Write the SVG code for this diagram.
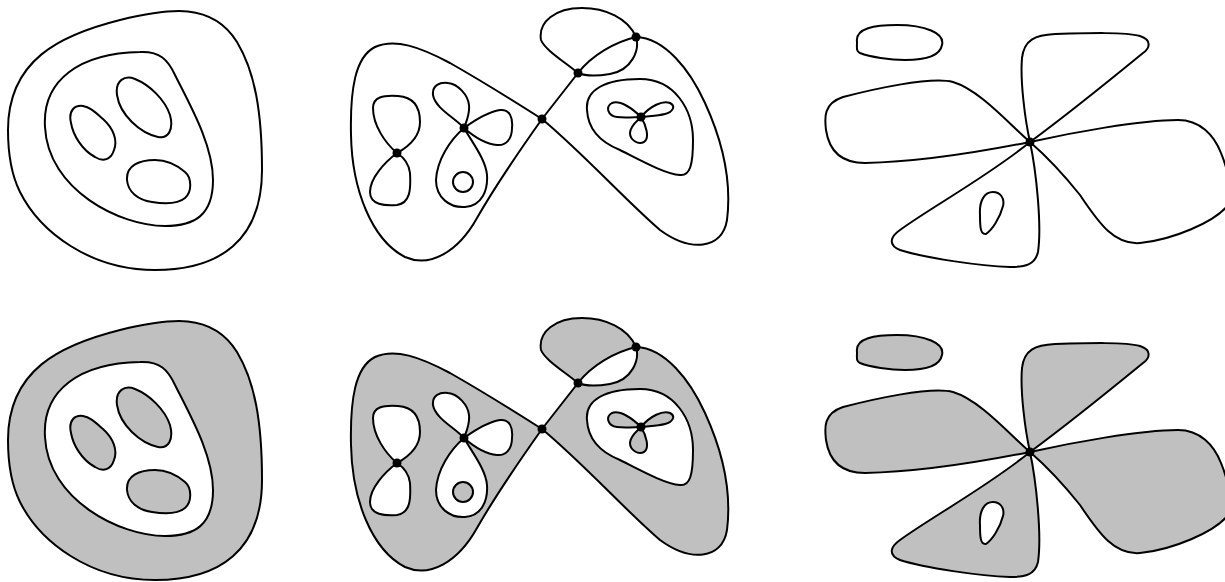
<svg xmlns="http://www.w3.org/2000/svg" xmlns:xlink="http://www.w3.org/1999/xlink" width="1225" height="582" viewBox="0 0 1225 582">
<style>
.ln{stroke:#000;stroke-width:2;stroke-linejoin:round;fill-rule:evenodd}
.top{fill:none}
.bot{fill:#c0c0c0}
.dot{fill:#000}
</style>
<defs>
<path id="p1" d="M 8,130 C 8,60 60,35 120,20 C 170,8 212,2 237,42 C 255,72 262,112 262,170 C 262,240 220,270 155,270 C 90,270 40,232 20,192 C 10,172 8,150 8,130 Z
M 45,127 C 42,80 80,53 140,52 C 160,51 168,60 175,75 C 190,105 213,145 213,180 C 213,215 195,226 165,226 C 120,226 48,190 45,127 Z
M 71,123 C 68,110 75,105 83,106 C 90,107 95,112 103,119 C 113,128 118,140 114,150 C 111,160 103,162 95,157 C 82,150 73,135 71,123 Z
M 117,95 C 115,80 125,75 135,79 C 150,85 165,100 170,115 C 174,130 168,139 158,137 C 140,133 120,115 117,95 Z
M 127,180 C 126,165 140,160 155,160 C 168,160 178,166 185,172 C 192,178 192,192 185,198 C 178,204 165,204 152,202 C 138,200 128,192 127,180 Z"/>
<path id="p2" d="M 542,119 C 520,105 480,80 450,63 C 420,47 395,38 375,47 C 355,57 350,90 351,135 C 352,190 372,240 405,257 C 430,268 458,252 477,218 C 497,183 520,150 542,119 Z
M 542,119 C 585,155 625,200 660,230 C 690,252 722,250 727,220 C 732,180 722,140 705,103 C 690,70 665,38 636,37 C 615,42 592,55 578,73 L 542,119 Z
M 578,73 C 565,62 545,50 541,40 C 538,22 555,8 582,8 C 605,8 628,18 636,37 C 640,50 632,70 610,74 C 598,76 585,76 578,73 Z
M 587,110 C 585,90 605,79 640,79 C 675,79 693,110 693,140 C 693,165 690,176 680,175 C 665,174 640,160 620,150 C 600,142 588,130 587,110 Z
M 641,117 C 632,108 620,100 612,103 C 605,107 608,116 617,117 C 625,118 635,117 641,117 Z
M 641,117 C 650,106 663,100 670,103 C 676,106 673,112 665,114 C 657,116 648,116 641,117 Z
M 641,117 C 646,125 650,138 644,142 C 638,145 630,140 630,133 C 630,126 637,121 641,117 Z
M 397,153 C 385,143 373,125 373,108 C 373,97 383,95 398,96 C 412,97 420,105 420,122 C 420,137 408,147 397,153 Z
M 397,153 C 385,162 370,178 370,192 C 370,205 385,206 397,205 C 410,203 411,190 410,173 C 409,163 403,157 397,153 Z
M 464,128 C 455,118 435,108 433,95 C 432,85 440,82 448,83 C 458,84 468,95 469,105 C 470,115 466,122 464,128 Z
M 464,128 C 475,120 488,112 500,110 C 510,109 513,118 512,128 C 512,140 505,146 497,145 C 485,144 472,135 464,128 Z
M 464,128 C 450,140 437,160 436,180 C 436,198 450,208 465,207 C 482,206 488,190 487,175 C 486,160 472,142 464,128 Z
M 453,182 A 10,10 0 1 0 473,182 A 10,10 0 1 0 453,182 Z"/>
<path id="p3" d="M 857,42 C 855,28 875,25 897,25 C 925,25 945,33 942,45 C 940,56 925,60 905,60 C 890,60 870,57 860,53 C 856,51 857,48 857,42 Z
M 1030,142 C 1010,125 980,90 953,82 C 930,76 870,90 843,97 C 822,104 825,120 826,130 C 829,150 840,163 865,163 C 920,162 990,150 1030,142 Z
M 1030,142 C 1025,120 1020,80 1022,58 C 1024,40 1035,35 1055,34 C 1090,33 1125,32 1140,36 C 1152,40 1150,48 1143,53 C 1110,80 1060,120 1030,142 Z
M 1030,142 C 1070,133 1140,120 1178,120 C 1200,120 1214,135 1221,153 C 1228,170 1232,188 1228,205 C 1215,222 1172,240 1140,243 C 1115,245 1100,225 1080,195 C 1060,170 1045,155 1030,142 Z
M 1030,142 C 1036,170 1042,225 1038,252 C 1035,265 1025,267 1010,267 C 980,266 925,258 900,250 C 888,245 890,237 900,230 C 930,208 990,175 1030,142 Z
M 980,215 C 979,200 985,192 993,192 C 1000,192 1005,198 1003,206 C 1000,218 992,230 986,234 C 980,235 980,225 980,215 Z"/>
<g id="dots2">
<circle cx="542" cy="119" r="4.5"/>
<circle cx="578" cy="73" r="4.5"/>
<circle cx="636" cy="37" r="4.5"/>
<circle cx="397" cy="153" r="4.5"/>
<circle cx="464" cy="128" r="4.5"/>
<circle cx="641" cy="117" r="4.5"/>
</g>
<circle id="dot3" cx="1030" cy="142" r="4.5"/>
</defs>
<g id="panel-top-1"><use xlink:href="#p1" class="ln top"/></g>
<g id="panel-top-2"><use xlink:href="#p2" class="ln top"/><use xlink:href="#dots2" class="dot"/></g>
<g id="panel-top-3"><use xlink:href="#p3" class="ln top"/><use xlink:href="#dot3" class="dot"/></g>
<g id="panel-bottom-1" transform="translate(0,310)"><use xlink:href="#p1" class="ln bot"/></g>
<g id="panel-bottom-2" transform="translate(0,310)"><use xlink:href="#p2" class="ln bot"/><use xlink:href="#dots2" class="dot"/></g>
<g id="panel-bottom-3" transform="translate(0,310)"><use xlink:href="#p3" class="ln bot"/><use xlink:href="#dot3" class="dot"/></g>
</svg>
